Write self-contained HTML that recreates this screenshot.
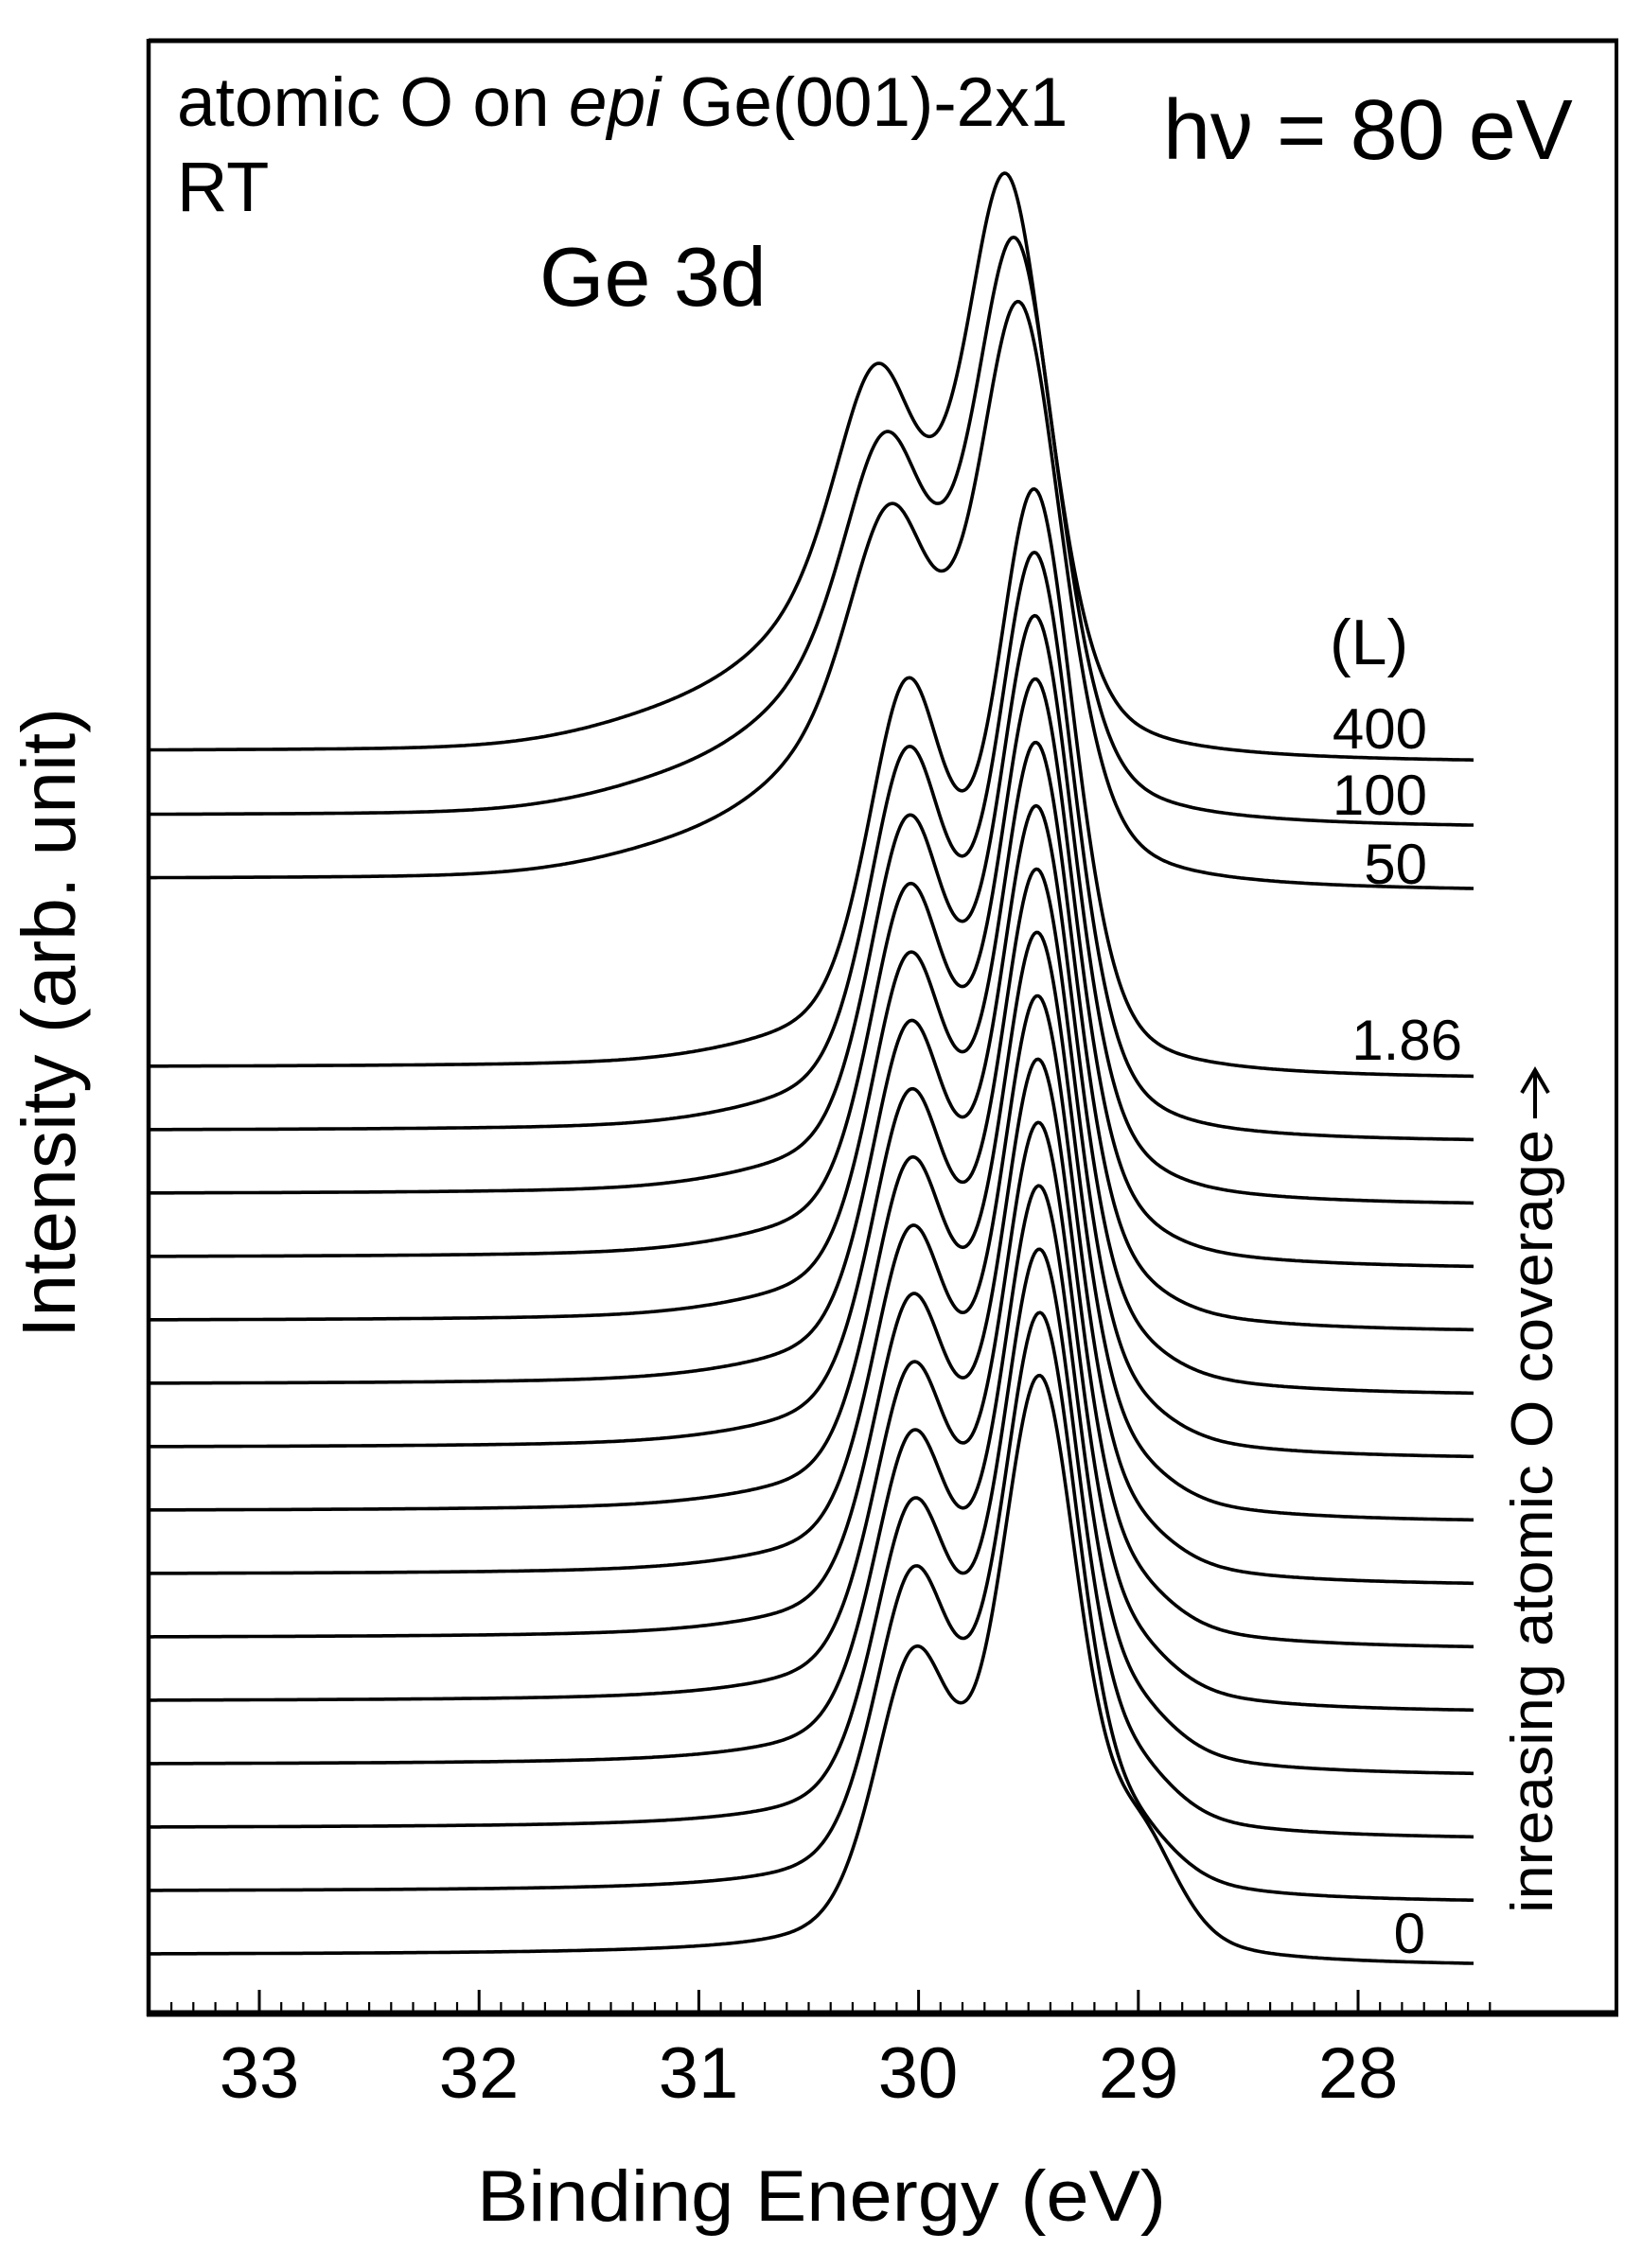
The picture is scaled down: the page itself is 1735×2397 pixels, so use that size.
<!DOCTYPE html>
<html><head><meta charset="utf-8">
<style>
html,body{margin:0;padding:0;background:#fff;}
svg{display:block;}
text{font-family:"Liberation Sans",Arial,sans-serif;fill:#000;}
</style></head>
<body>
<svg id="s" width="1735" height="2397" viewBox="0 0 1735 2397" xmlns="http://www.w3.org/2000/svg">
<rect width="1735" height="2397" fill="#fff"/>
<g id="curves" fill="none" stroke="#000" stroke-width="3.6" stroke-linejoin="round"></g>
<g id="ticks" stroke="#000"></g>
<line x1="157" y1="43" x2="1710" y2="43" stroke="#000" stroke-width="5"/>
<line x1="157" y1="41" x2="157" y2="2131" stroke="#000" stroke-width="4.5"/>
<line x1="1708" y1="41" x2="1708" y2="2131" stroke="#000" stroke-width="4"/>
<line x1="155" y1="2128" x2="1710" y2="2128" stroke="#000" stroke-width="7"/>
<text x="187" y="133" font-size="73">atomic O on <tspan font-style="italic">epi</tspan> Ge(001)-2x1</text>
<text x="187" y="223" font-size="74">RT</text>
<text x="570" y="323" font-size="88">Ge 3d</text>
<text x="1229" y="168" font-size="90">hν = 80 eV</text>
<text x="1405" y="702" font-size="68">(L)</text>
<text x="1508" y="791" font-size="60" text-anchor="end">400</text>
<text x="1508" y="861" font-size="60" text-anchor="end">100</text>
<text x="1508" y="934" font-size="60" text-anchor="end">50</text>
<text x="1545" y="1120" font-size="60" text-anchor="end">1.86</text>
<text x="1506" y="2064" font-size="60" text-anchor="end">0</text>
<text transform="translate(79,1081) rotate(-90)" font-size="80" text-anchor="middle" textLength="666" lengthAdjust="spacingAndGlyphs">Intensity (arb. unit)</text>
<text transform="translate(1640,1608) rotate(-90)" font-size="62" text-anchor="middle" textLength="828" lengthAdjust="spacingAndGlyphs">inreasing atomic O coverage</text>
<g stroke="#000" stroke-width="4" fill="none">
<line x1="1622" y1="1182" x2="1622" y2="1132"/>
<polyline points="1608,1155 1622,1131 1636,1155"/>
</g>
<g font-size="76" text-anchor="middle">
<text x="274" y="2217">33</text>
<text x="506" y="2217">32</text>
<text x="738" y="2217">31</text>
<text x="970" y="2217">30</text>
<text x="1203" y="2217">29</text>
<text x="1435" y="2217">28</text>
</g>
<text x="868" y="2347" font-size="76" text-anchor="middle" textLength="728" lengthAdjust="spacingAndGlyphs">Binding Energy (eV)</text>
</svg>
<script>
(function(){
var NS="http://www.w3.org/2000/svg";
function X(E){return 274+(33-E)*232.2;}
function pv(d,h,eta){var u=d/h;return (1-eta)*Math.exp(-0.6931*u*u)+eta/(1+u*u);}
function gs(E,c,w){var u=(E-c)/w;return Math.exp(-0.6931*u*u);}
function spec(E,p){
  var s=0.58;
  var v=pv(E-p.E1,p.h,p.eta)+p.r*pv(E-p.E1-s,p.h,p.eta);
  if(p.S) v+=p.S*(pv(E-p.Es,0.2,0.3)+p.r*pv(E-p.Es-s,0.2,0.3));
  if(p.Ox) v+=p.Ox*gs(E,p.Eo,p.wo);
  if(p.Ox2) v+=p.Ox2*gs(E,p.Eo2,p.wo2);
  return v;
}
var curves=[];
curves.push({base:807,E1:29.60,h:0.235,eta:0.4,r:0.52,Ox:0.10,Eo:30.42,wo:0.35,Ox2:0.08,Eo2:30.8,wo2:0.6,H:620,bg:13});
curves.push({base:876,E1:29.56,h:0.235,eta:0.4,r:0.52,Ox:0.10,Eo:30.40,wo:0.35,Ox2:0.075,Eo2:30.78,wo2:0.6,H:621,bg:14});
curves.push({base:943,E1:29.54,h:0.235,eta:0.4,r:0.51,Ox:0.095,Eo:30.38,wo:0.35,Ox2:0.07,Eo2:30.75,wo2:0.6,H:620,bg:14});
for(var i=0;i<15;i++){
  var t=i/14;
  curves.push({base:1141+67*i,E1:29.47-0.03*t,h:0.215,eta:0.38,r:0.62-0.09*t,
    S:(i==14?0.18:0.07*t),Es:28.98,Ox:0.03*(1-t),Eo:30.4,wo:0.5,H:620,bg:13});
}
var g=document.getElementById("curves");
var x0=159,x1=1557;
curves.forEach(function(p){
  var xs=[],vs=[];
  for(var x=x1;x>=x0;x-=2){var E=33-(x-274)/232.2;xs.push(x);vs.push(spec(E,p));}
  var mx=0,tot=0;vs.forEach(function(v){if(v>mx)mx=v;tot+=v;});
  var cum=0,d="";
  for(var k=0;k<xs.length;k++){
    cum+=vs[k];
    var y=p.base-p.H*vs[k]/mx-p.bg*cum/tot;
    d+=(k?"L":"M")+xs[k].toFixed(1)+" "+y.toFixed(1);
  }
  var path=document.createElementNS(NS,"path");
  path.setAttribute("d",d);g.appendChild(path);
});
var tg=document.getElementById("ticks");
for(var n=0;n<=60;n++){
  var E=33.4-n*0.1;var x=X(E);
  var major=Math.abs(E-Math.round(E))<0.01;
  var l=document.createElementNS(NS,"line");
  l.setAttribute("x1",x.toFixed(1));l.setAttribute("x2",x.toFixed(1));
  l.setAttribute("y1",2128);l.setAttribute("y2",major?2103:2116);
  l.setAttribute("stroke-width",major?3:2.2);
  tg.appendChild(l);
}
})();
</script>
</body></html>
